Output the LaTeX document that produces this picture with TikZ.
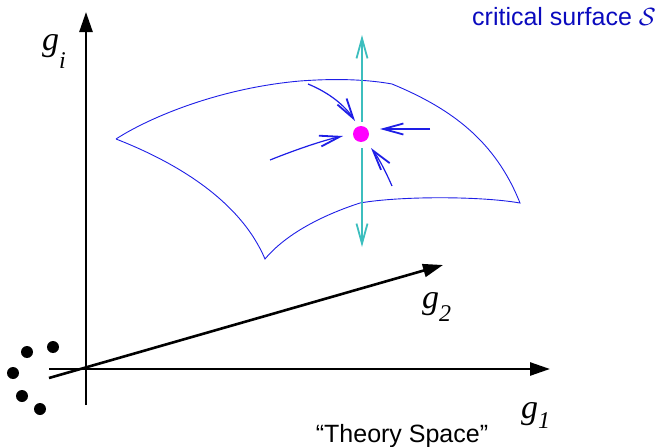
\documentclass[tikz,border=0pt]{standalone}
\usepackage{fontspec}
\setmainfont{Liberation Serif}
\setsansfont{Liberation Sans}
\usetikzlibrary{arrows.meta}
\definecolor{surfblue}{RGB}{30,30,230}
\definecolor{textblue}{RGB}{10,10,190}
\definecolor{flowcyan}{RGB}{60,190,190}
\definecolor{fpmag}{RGB}{255,0,255}
\tikzset{
  axis/.style={line width=2.6pt,-{Triangle[length=20pt,width=13pt]}},
  surf/.style={draw=surfblue,line width=0.9pt},
  flow/.style={draw=surfblue,line width=1.2pt,-{Straight Barb[length=20pt,width=11pt,line width=1.8pt]}},
  relev/.style={draw=flowcyan,line width=1.5pt,-{Straight Barb[length=20pt,width=11pt,line width=1.8pt]}},
  glabel/.style={font=\fontsize{34}{34}\selectfont\itshape,inner sep=0pt,anchor=base west},
  dot/.style={circle,fill=black,minimum size=12pt,inner sep=0pt},
  sans/.style={font=\sffamily\fontsize{25}{29}\selectfont,inner sep=0pt,anchor=base}
}
\begin{document}
\begin{tikzpicture}[x=1pt,y=-1pt]
\useasboundingbox (0,0) rectangle (665,447);
% axes
\coordinate (vb) at (86,405);
\coordinate (vt) at (86,12);
\coordinate (hl) at (49,369);
\coordinate (hr) at (550,369);
\coordinate (dl) at (49,378);
\coordinate (dr) at (443,265);
\draw[axis] (vb) -- (vt);
\draw[axis] (hl) -- (hr);
\draw[axis] (dl) -- (dr);
% labels
\node[glabel] (gi) at (42,50) {g\raisebox{-18pt}{\fontsize{24}{24}\selectfont i}};
\node[glabel] (g2) at (422,308) {g\raisebox{-13pt}{\fontsize{24}{24}\selectfont 2}};
\node[glabel] (g1) at (521,418) {g\raisebox{-10pt}{\fontsize{24}{24}\selectfont 1}};
% dots
\node[dot] (d1) at (27,352) {};
\node[dot] (d2) at (53,347) {};
\node[dot] (d3) at (13,373) {};
\node[dot] (d4) at (22,396) {};
\node[dot] (d5) at (40,409) {};
% surface
\coordinate (sL) at (116,139);
\coordinate (sT) at (392,84);
\coordinate (sR) at (520,203);
\coordinate (sM) at (360,203);
\coordinate (sB) at (265,259);
\draw[surf,line join=miter] (sL) .. controls (150,117) and (220,88) .. (300,81)
  .. controls (340,78) and (370,80) .. (sT)
  .. controls (450,108) and (495,140) .. (sR)
  .. controls (480,196) and (400,196) .. (sM)
  .. controls (320,216) and (285,235) .. (sB)
  .. controls (240,200) and (175,162) .. (sL);
% fixed point
\node[circle,fill=fpmag,minimum size=16pt,inner sep=0pt] (fp) at (361,134) {};
% relevant direction
\coordinate (ct) at (362,35);
\coordinate (cta) at (362,122);
\coordinate (cba) at (362,148);
\coordinate (cb) at (362,247);
\draw[relev] (cta) -- (ct);
\draw[relev] (cba) -- (cb);
% flows
\coordinate (f1s) at (308,84);
\coordinate (f1e) at (355,121);
\coordinate (f2s) at (430,129);
\coordinate (f2e) at (380,129);
\coordinate (f3s) at (270,160);
\coordinate (f3e) at (343,136);
\coordinate (f4s) at (392,186);
\coordinate (f4e) at (371,148);
\draw[flow] (f1s) .. controls (330,93) and (345,106) .. (f1e);
\draw[flow] (f2s) -- (f2e);
\draw[flow] (f3s) .. controls (300,148) and (325,140) .. (f3e);
\draw[flow] (f4s) .. controls (385,170) and (378,157) .. (f4e);
% texts
\node[sans,text=textblue] (cs) at (564,26) {critical surface $\mathcal{S}$};
\node[sans] (ts) at (402,442) {“Theory Space”};
\end{tikzpicture}
\end{document}
